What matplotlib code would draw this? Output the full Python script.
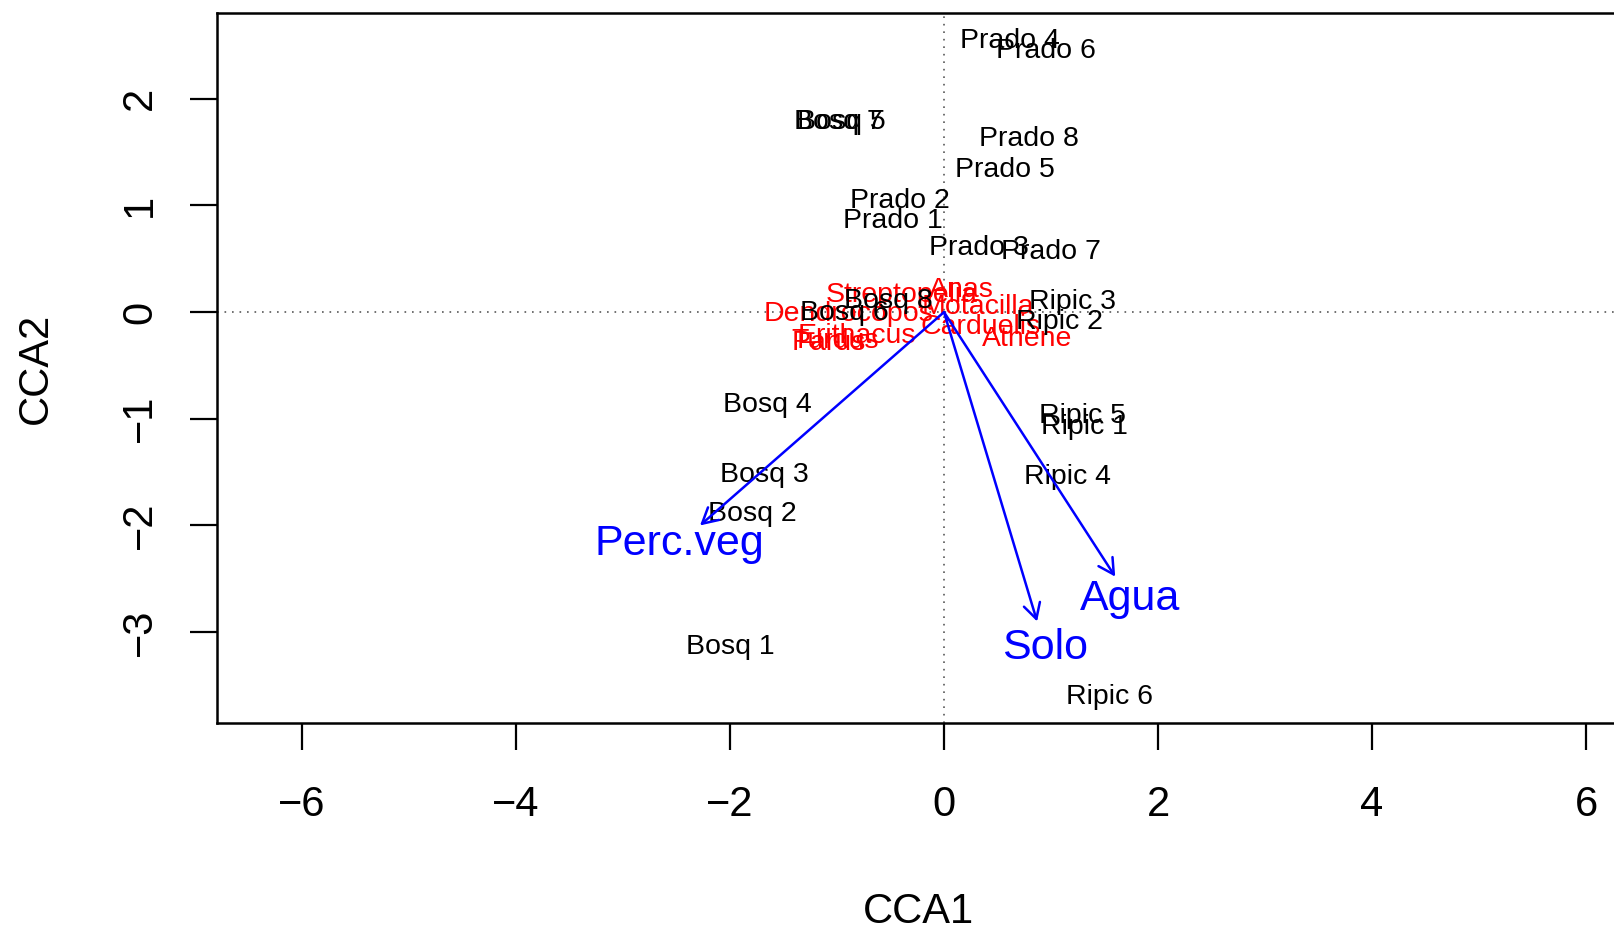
import matplotlib
matplotlib.use("Agg")
import matplotlib.pyplot as plt
import numpy as np

# ---------------------------------------------------------------------
# CCA ordination scores
# ---------------------------------------------------------------------

site_names = ["Prado 4", "Prado 6", "Bosq 7", "Bosq 5", "Prado 8", "Prado 5",
              "Prado 2", "Prado 1", "Prado 3", "Prado 7", "Ripic 3", "Ripic 2",
              "Bosq 8", "Bosq 6", "Bosq 4", "Bosq 3", "Bosq 2", "Bosq 1",
              "Ripic 5", "Ripic 1", "Ripic 4", "Ripic 6"]
site_x = [0.62, 0.95, -0.99, -0.96, 0.79, 0.57,
          -0.41, -0.48, 0.33, 1.00, 1.20, 1.08,
          -0.52, -0.93, -1.65, -1.68, -1.79, -2.00,
          1.29, 1.31, 1.15, 1.55]
site_y = [2.54, 2.45, 1.78, 1.78, 1.62, 1.33,
          1.04, 0.85, 0.60, 0.56, 0.09, -0.09,
          0.10, -0.01, -0.87, -1.53, -1.89, -3.14,
          -0.97, -1.08, -1.55, -3.61]

species_names = ["Anas", "Streptopelia", "Motacilla", "Dendrocopos", "Carduelis",
                 "Athene", "Erithacus", "Turdus", "Parus"]
species_x = [0.16, -0.40, 0.32, -0.89, 0.34, 0.78, -0.81, -1.02, -1.08]
species_y = [0.21, 0.16, 0.05, -0.02, -0.14, -0.25, -0.22, -0.27, -0.29]

env_names = ["Perc.veg", "Solo", "Agua"]
env_x = [-2.28, 0.87, 1.60]
env_y = [-2.00, -2.90, -2.48]
label_mul = 1.085

x_ticks = [-6, -4, -2, 0, 2, 4, 6]
y_ticks = [-3, -2, -1, 0, 1, 2]

plt.rcParams["font.family"] = ["Liberation Sans", "DejaVu Sans"]

fig = plt.figure(figsize=(16.15, 9.31), dpi=100)
W, H = 1615, 931
# plot region: left 217px, right 1619px (runs just off the picture), top 13px, bottom 723px
ax = fig.add_axes([217 / W, (H - 723) / H, (1619 - 217) / W, (723 - 13.4) / H])
ax.set_xlim(-6.794, 6.308)
ax.set_ylim(-3.852, 2.80)

# dotted cross through the origin
ax.axhline(0, color="0.35", lw=1.2, linestyle=(0, (1, 3.5)), zorder=1)
ax.axvline(0, color="0.35", lw=1.2, linestyle=(0, (1, 3.5)), zorder=1)

for name, x, y in zip(site_names, site_x, site_y):
    ax.text(x, y, name, color="black", fontsize=20.5, ha="center", va="center", zorder=3)

for name, x, y in zip(species_names, species_x, species_y):
    ax.text(x, y, name, color="red", fontsize=20.5, ha="center", va="center", zorder=2)

for name, x, y in zip(env_names, env_x, env_y):
    ax.annotate("", xy=(x, y), xytext=(0, 0),
                arrowprops=dict(arrowstyle="->,head_length=0.55,head_width=0.3",
                                color="blue", lw=1.8, shrinkA=0, shrinkB=0,
                                mutation_scale=20), zorder=4)
    ax.text(x * label_mul, y * label_mul, name, color="blue", fontsize=31,
            ha="center", va="center", zorder=4)

ax.set_xticks(x_ticks)
ax.set_yticks(y_ticks)
ax.tick_params(axis="both", length=19.5, width=1.6, labelsize=30)
ax.tick_params(axis="x", pad=25.5)
ax.tick_params(axis="y", pad=21.5, labelrotation=90)
for lab in ax.get_yticklabels():
    lab.set_va("center")

ax.set_xlabel("CCA1", fontsize=30, labelpad=48)
ax.set_ylabel("CCA2", fontsize=30, labelpad=46)

for side in ["left", "bottom", "top", "right"]:
    ax.spines[side].set_linewidth(1.8)

fig.savefig("out.png", dpi=100)
